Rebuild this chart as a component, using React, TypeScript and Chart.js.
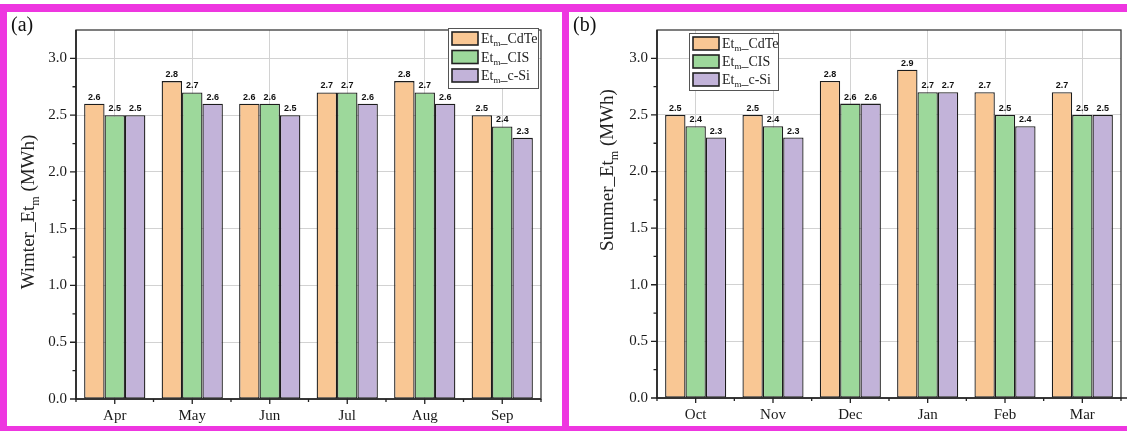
import { useEffect, useRef } from 'react';
import { Chart, registerables } from 'chart.js';

Chart.register(...registerables);

// ---------- data ----------
const winterMonths = ['Apr', 'May', 'Jun', 'Jul', 'Aug', 'Sep'];
const winterCdTe = [2.6, 2.8, 2.6, 2.7, 2.8, 2.5];
const winterCIS = [2.5, 2.7, 2.6, 2.7, 2.7, 2.4];
const winterCSi = [2.5, 2.6, 2.5, 2.6, 2.6, 2.3];

const summerMonths = ['Oct', 'Nov', 'Dec', 'Jan', 'Feb', 'Mar'];
const summerCdTe = [2.5, 2.5, 2.8, 2.9, 2.7, 2.7];
const summerCIS = [2.4, 2.4, 2.6, 2.7, 2.5, 2.5];
const summerCSi = [2.3, 2.3, 2.6, 2.7, 2.4, 2.5];

const seriesNames = ['CdTe', 'CIS', 'c-Si'];
const yTickValues = [0, 0.5, 1.0, 1.5, 2.0, 2.5, 3.0];
const yMinorValues = [0.25, 0.75, 1.25, 1.75, 2.25, 2.75];
const yMax = 3.25;

// ---------- styles ----------
const COLORS = ['#F9C794', '#9DD89B', '#C2B3D9'];
const MAGENTA = '#EE36E0';
const SERIF = '"Liberation Serif", "Times New Roman", serif';

type PanelCfg = {
  labels: string[];
  values: number[][];
  titlePrefix: string;
  panelLabel: string;
  width: number;
  height: number;
  plotLeft: number;
  padRight: number;
  padTop: number;
  xAxisHeight: number;
  titleX: number;
  titleY: number;
  legendX: number;
  legendY: number;
  legendW: number;
  legendH: number;
  legendStep: number;
  axisOverhang: number;
};

function drawParts(
  ctx: CanvasRenderingContext2D,
  parts: { text: string; size: number; dy: number }[],
  x0: number,
  y0: number,
  align: 'left' | 'center'
) {
  let total = 0;
  const widths: number[] = [];
  parts.forEach((p) => {
    ctx.font = `${p.size}px ${SERIF}`;
    const w = ctx.measureText(p.text).width;
    widths.push(w);
    total += w;
  });
  let x = align === 'center' ? x0 - total / 2 : x0;
  parts.forEach((p, i) => {
    ctx.font = `${p.size}px ${SERIF}`;
    ctx.fillText(p.text, x, y0 + p.dy);
    x += widths[i];
  });
}

function makeDecorPlugin(cfg: PanelCfg) {
  return {
    id: 'decor',
    afterDatasetsDraw(chart: any) {
      const ctx: CanvasRenderingContext2D = chart.ctx;
      const { left, right, top, bottom } = chart.chartArea;
      const xs = chart.scales.x;
      const ys = chart.scales.y;
      ctx.save();

      // value labels
      ctx.font = 'bold 9px "Liberation Sans", Arial, sans-serif';
      ctx.fillStyle = '#111';
      ctx.textAlign = 'center';
      ctx.textBaseline = 'bottom';
      chart.data.datasets.forEach((ds: any, i: number) => {
        const meta = chart.getDatasetMeta(i);
        meta.data.forEach((bar: any, j: number) => {
          ctx.fillText(Number(ds.data[j]).toFixed(1), bar.x, bar.y - 2);
        });
      });

      // frame
      ctx.strokeStyle = '#3a3a3a';
      ctx.lineWidth = 1.3;
      ctx.strokeRect(left, top, right - left, bottom - top);
      ctx.strokeStyle = '#222';
      ctx.lineWidth = 1.6;
      ctx.beginPath();
      ctx.moveTo(left, top);
      ctx.lineTo(left, bottom);
      ctx.lineTo(right + cfg.axisOverhang, bottom);
      ctx.stroke();

      // y tick marks
      ctx.lineWidth = 1.3;
      ctx.beginPath();
      yTickValues.forEach((v) => {
        const py = ys.getPixelForValue(v);
        ctx.moveTo(left - 6, py);
        ctx.lineTo(left, py);
      });
      yMinorValues.forEach((v) => {
        const py = ys.getPixelForValue(v);
        ctx.moveTo(left - 3.5, py);
        ctx.lineTo(left, py);
      });
      // x tick marks
      const n = cfg.labels.length;
      for (let i = 0; i < n; i++) {
        const px = xs.getPixelForValue(i);
        ctx.moveTo(px, bottom);
        ctx.lineTo(px, bottom + 5);
      }
      for (let i = 0; i <= n; i++) {
        const px = xs.getPixelForValue(i - 0.5);
        ctx.moveTo(px, bottom);
        ctx.lineTo(px, bottom + 3);
      }
      ctx.stroke();

      // legend
      const lx = cfg.legendX;
      const ly = cfg.legendY;
      ctx.fillStyle = '#fff';
      ctx.fillRect(lx, ly, cfg.legendW, cfg.legendH);
      ctx.strokeStyle = '#555';
      ctx.lineWidth = 1;
      ctx.strokeRect(lx + 0.5, ly + 0.5, cfg.legendW, cfg.legendH);
      seriesNames.forEach((name, i) => {
        const sy = ly + 4 + i * cfg.legendStep;
        ctx.fillStyle = COLORS[i];
        ctx.fillRect(lx + 4, sy, 26, 13);
        ctx.strokeStyle = '#222';
        ctx.lineWidth = 1.6;
        ctx.strokeRect(lx + 4, sy, 26, 13);
        ctx.fillStyle = '#222';
        ctx.textAlign = 'left';
        ctx.textBaseline = 'alphabetic';
        drawParts(
          ctx,
          [
            { text: 'Et', size: 14, dy: 0 },
            { text: 'm', size: 9, dy: 3 },
            { text: '_' + name, size: 14, dy: 0 },
          ],
          lx + 33,
          sy + 11,
          'left'
        );
      });

      ctx.restore();
    },
    afterDraw(chart: any) {
      const ctx: CanvasRenderingContext2D = chart.ctx;
      ctx.save();
      // y title
      ctx.translate(cfg.titleX, cfg.titleY);
      ctx.rotate(-Math.PI / 2);
      ctx.fillStyle = '#222';
      ctx.textAlign = 'left';
      ctx.textBaseline = 'alphabetic';
      drawParts(
        ctx,
        [
          { text: cfg.titlePrefix + '_Et', size: 19, dy: 0 },
          { text: 'm', size: 12, dy: 5 },
          { text: ' (MWh)', size: 19, dy: 0 },
        ],
        0,
        7,
        'center'
      );
      ctx.restore();
      // panel label
      ctx.save();
      ctx.fillStyle = '#111';
      ctx.font = `20px ${SERIF}`;
      ctx.textAlign = 'left';
      ctx.textBaseline = 'alphabetic';
      ctx.fillText(cfg.panelLabel, 4, 19);
      ctx.restore();
    },
  };
}

function Panel({ cfg, style }: { cfg: PanelCfg; style: any }) {
  const ref = useRef<HTMLCanvasElement | null>(null);
  useEffect(() => {
    if (!ref.current) return;
    const chart = new Chart(ref.current, {
      type: 'bar',
      data: {
        labels: cfg.labels,
        datasets: seriesNames.map((name, i) => ({
          label: 'Et_m_' + name,
          data: cfg.values[i],
          backgroundColor: COLORS[i],
          borderColor: '#1c1c1c',
          borderWidth: 1.3,
          borderSkipped: false,
          categoryPercentage: 0.79,
          barPercentage: 1.0,
        })),
      },
      options: {
        animation: false,
        responsive: false,
        maintainAspectRatio: false,
        events: [],
        layout: { padding: { left: 0, right: cfg.padRight, top: cfg.padTop, bottom: 0 } },
        plugins: {
          legend: { display: false },
          tooltip: { enabled: false },
          title: { display: false },
        },
        scales: {
          x: {
            type: 'category',
            offset: true,
            grid: { offset: false, color: '#d2d2d2', lineWidth: 1, drawTicks: false },
            border: { display: false },
            ticks: {
              font: { family: SERIF, size: 15 },
              color: '#1a1a1a',
              padding: 8,
              maxRotation: 0,
              autoSkip: false,
            },
            afterFit: (s: any) => {
              s.height = cfg.xAxisHeight;
            },
          },
          y: {
            min: 0,
            max: yMax,
            grid: { color: '#d2d2d2', lineWidth: 1, drawTicks: false },
            border: { display: false },
            afterBuildTicks: (s: any) => {
              s.ticks = yTickValues.map((v) => ({ value: v }));
            },
            ticks: {
              font: { family: SERIF, size: 15 },
              color: '#1a1a1a',
              padding: 9,
              callback: (v: any) => Number(v).toFixed(1),
            },
            afterFit: (s: any) => {
              s.width = cfg.plotLeft;
            },
          },
        },
      },
      plugins: [makeDecorPlugin(cfg)],
    } as any);
    return () => chart.destroy();
  }, [cfg]);
  return (
    <canvas
      ref={ref}
      width={cfg.width}
      height={cfg.height}
      style={{ position: 'absolute', width: cfg.width, height: cfg.height, ...style }}
    />
  );
}

const winterCfg: PanelCfg = {
  labels: winterMonths,
  values: [winterCdTe, winterCIS, winterCSi],
  titlePrefix: 'Wimter',
  panelLabel: '(a)',
  width: 555,
  height: 414,
  plotLeft: 69,
  padRight: 21,
  padTop: 12,
  xAxisHeight: 27,
  titleX: 20,
  titleY: 200,
  legendX: 441,
  legendY: 16,
  legendW: 90,
  legendH: 60,
  legendStep: 18.5,
  axisOverhang: 0,
};

const summerCfg: PanelCfg = {
  labels: summerMonths,
  values: [summerCdTe, summerCIS, summerCSi],
  titlePrefix: 'Summer',
  panelLabel: '(b)',
  width: 558,
  height: 414,
  plotLeft: 88,
  padRight: 6,
  padTop: 11,
  xAxisHeight: 28,
  titleX: 37,
  titleY: 158,
  legendX: 120,
  legendY: 21,
  legendW: 89,
  legendH: 57,
  legendStep: 18,
  axisOverhang: 6,
};

export default function App() {
  useEffect(() => {
    document.body.style.margin = '0';
    document.body.style.background = '#fff';
  }, []);
  const bar = (s: any) => (
    <div style={{ position: 'absolute', background: MAGENTA, ...s }} />
  );
  return (
    <div style={{ position: 'relative', width: 1127, height: 431, background: '#fff', overflow: 'hidden' }}>
      <Panel cfg={winterCfg} style={{ left: 7, top: 12 }} />
      <Panel cfg={summerCfg} style={{ left: 569, top: 12 }} />
      {bar({ left: 0, top: 4, width: 1127, height: 8 })}
      {bar({ left: 0, top: 4, width: 7, height: 427 })}
      {bar({ left: 562, top: 4, width: 7, height: 427 })}
      {bar({ left: 0, top: 426, width: 1127, height: 5 })}
    </div>
  );
}
